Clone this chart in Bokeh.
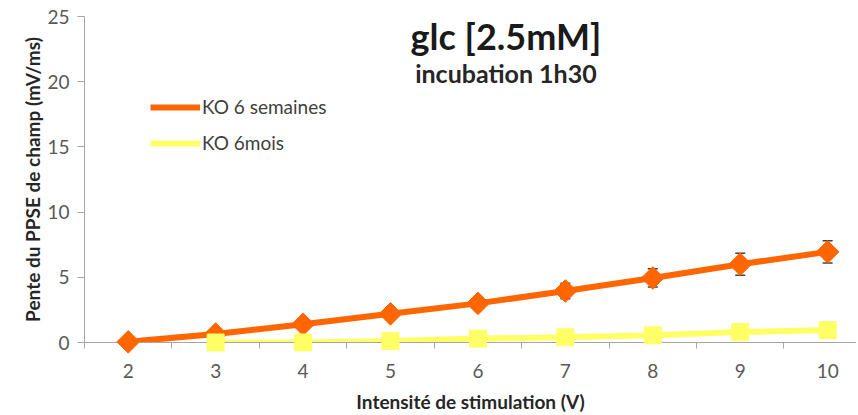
import math
from bokeh.plotting import figure
from bokeh.models import (Range1d, FixedTicker, Legend, LegendItem, Label,
                          ColumnDataSource, Whisker)
from bokeh.embed import file_html
from bokeh.resources import INLINE

# ---- data ----
stim_v = [2, 3, 4, 5, 6, 7, 8, 9, 10]
ko_6sem = [0.05, 0.65, 1.4, 2.2, 3.0, 3.95, 4.95, 6.0, 6.95]
ko_6sem_err = [0.05, 0.15, 0.25, 0.3, 0.4, 0.6, 0.7, 0.85, 0.85]
stim_v_6m = [3, 4, 5, 6, 7, 8, 9, 10]
ko_6mois = [0.0, 0.0, 0.12, 0.3, 0.4, 0.55, 0.8, 0.95]
ko_6mois_err = [0.05, 0.05, 0.08, 0.1, 0.12, 0.12, 0.15, 0.15]
y_ticks = [0, 5, 10, 15, 20, 25]
series_names = ["KO 6 semaines", "KO 6mois"]
title_main = "glc [2.5mM]"
title_sub = "incubation 1h30"
x_label = "Intensité de stimulation (V)"
y_label = "Pente du PPSE de champ (mV/ms)"

ORANGE = "#FF6600"
YELLOW = "#FFFF66"
FONT = "Lato"

p = figure(width=856, height=415, output_backend="svg", toolbar_location=None,
           x_range=Range1d(1.5, 10.33), y_range=Range1d(0, 25),
           min_border_left=84, min_border_right=0, min_border_top=16,
           min_border_bottom=73)
p.outline_line_color = None
p.grid.visible = False
p.background_fill_color = "white"
p.border_fill_color = "white"

# x axis
xa = p.xaxis[0]
xa.ticker = FixedTicker(ticks=stim_v, minor_ticks=[v + 0.5 for v in [1] + stim_v])
xa.major_tick_line_color = None
xa.minor_tick_line_color = "#A6A6A6"
xa.minor_tick_in = 0
xa.minor_tick_out = 6
xa.axis_line_color = "#A6A6A6"
xa.major_label_text_font = FONT
xa.major_label_text_font_size = "19px"
xa.major_label_text_color = "#595959"
xa.major_label_standoff = 15
xa.axis_label = x_label
xa.axis_label_text_font = FONT
xa.axis_label_text_font_style = "bold"
xa.axis_label_text_font_size = "19px"
xa.axis_label_text_color = "#262626"
xa.axis_label_standoff = 9

# y axis
ya = p.yaxis[0]
ya.ticker = FixedTicker(ticks=y_ticks)
ya.minor_tick_line_color = None
ya.major_tick_line_color = "#A6A6A6"
ya.major_tick_in = 0
ya.major_tick_out = 7
ya.axis_line_color = "#A6A6A6"
ya.major_label_text_font = FONT
ya.major_label_text_font_size = "19px"
ya.major_label_text_color = "#595959"
ya.major_label_standoff = 8
ya.axis_label = y_label
ya.axis_label_text_font = FONT
ya.axis_label_text_font_style = "bold"
ya.axis_label_text_font_size = "19px"
ya.axis_label_text_color = "#262626"
ya.axis_label_standoff = 0

src1 = ColumnDataSource(dict(x=stim_v, y=ko_6sem,
                             lo=[a - b for a, b in zip(ko_6sem, ko_6sem_err)],
                             hi=[a + b for a, b in zip(ko_6sem, ko_6sem_err)]))
src2 = ColumnDataSource(dict(x=stim_v_6m, y=ko_6mois,
                             lo=[a - b for a, b in zip(ko_6mois, ko_6mois_err)],
                             hi=[a + b for a, b in zip(ko_6mois, ko_6mois_err)]))

l1 = p.line("x", "y", source=src1, line_color=ORANGE, line_width=6)
l2 = p.line("x", "y", source=src2, line_color=YELLOW, line_width=6)

# error bars (drawn above lines, below markers)
for s, c in ((src1, "#404040"), (src2, "#8c8c8c")):
    w = Whisker(source=s, base="x", upper="hi", lower="lo",
                line_color=c, line_width=1.5, level="annotation")
    for h in (w.upper_head, w.lower_head):
        h.size = 10
        h.line_color = c
        h.line_width = 1.5
    p.add_layout(w)

m1 = p.scatter("x", "y", source=src1, marker="square", angle=math.pi / 4, size=16,
               fill_color=ORANGE, line_color=ORANGE, level="overlay")
m2 = p.scatter("x", "y", source=src2, marker="square", size=17, fill_color=YELLOW,
               line_color=YELLOW, level="overlay")

# legend glyphs
lm1 = p.scatter([], [], marker="diamond", size=12, fill_color=ORANGE, line_color=ORANGE)
lm2 = p.scatter([], [], marker="square", size=11, fill_color=YELLOW, line_color=YELLOW)
legend = Legend(items=[LegendItem(label=series_names[0], renderers=[l1, lm1]),
                       LegendItem(label=series_names[1], renderers=[l2, lm2])],
                location=(66, 188), padding=0, border_line_color=None,
                background_fill_alpha=0, glyph_width=50, glyph_height=20,
                label_height=20, spacing=13, label_standoff=2,
                label_text_font=FONT, label_text_font_size="19px",
                label_text_color="#404040", margin=0)
p.add_layout(legend)

p.add_layout(Label(x=6.32, y=23.5, text=title_main, text_align="center",
                   text_baseline="middle", text_font=FONT, text_font_style="bold",
                   text_font_size="36px", text_color="#1a1a1a"))
p.add_layout(Label(x=6.32, y=20.65, text=title_sub, text_align="center",
                   text_baseline="middle", text_font=FONT, text_font_style="bold",
                   text_font_size="25px", text_color="#262626"))

open("out.html", "w").write(file_html(p, INLINE))
